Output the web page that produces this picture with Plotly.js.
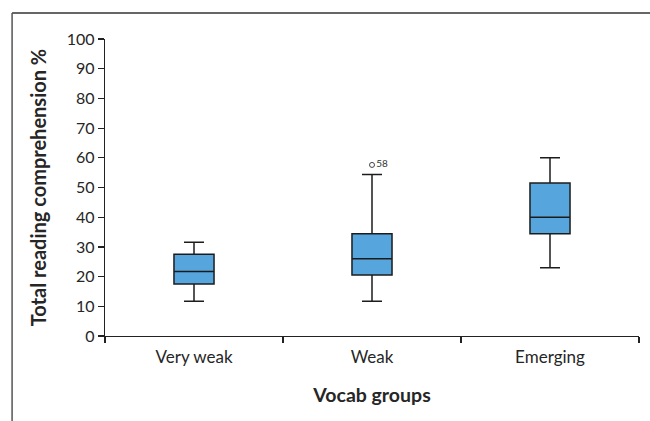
<!DOCTYPE html>
<html>
<head>
<meta charset="utf-8">
<script src="https://cdn.plot.ly/plotly-3.0.1.min.js"></script>
<style>
  html, body { margin: 0; padding: 0; background: #fff; }
  #chart { width: 650px; height: 421px; }
</style>
</head>
<body>
<div id="chart"></div>
<script>
// Data
var groups = ['Very weak', 'Weak', 'Emerging'];
var lowerWhisker = [11.7, 11.7, 23.0];
var q1Values = [17.5, 20.5, 34.4];
var medianValues = [21.7, 26.0, 40.0];
var q3Values = [27.5, 34.4, 51.5];
var upperWhisker = [31.6, 54.4, 60.0];
var outlierGroup = ['Weak'];
var outlierValue = [57.6];
var outlierLabel = ['58'];
var yTicks = [0, 10, 20, 30, 40, 50, 60, 70, 80, 90, 100];

var FONT = 'Lato, "Open Sans", sans-serif';
var INK = '#262626';

var boxTrace = {
  type: 'box',
  x: groups,
  lowerfence: lowerWhisker,
  q1: q1Values,
  median: medianValues,
  q3: q3Values,
  upperfence: upperWhisker,
  width: 0.225,
  whiskerwidth: 0.5,
  fillcolor: '#56a6dd',
  line: { color: '#1c1c1c', width: 1.5 },
  boxpoints: false,
  hoverinfo: 'skip',
  showlegend: false
};

var outlierTrace = {
  type: 'scatter',
  mode: 'markers+text',
  x: outlierGroup,
  y: outlierValue,
  text: outlierLabel,
  textposition: 'middle right',
  textfont: { family: FONT, size: 10, color: '#333' },
  marker: { symbol: 'circle-open', size: 5, color: '#444', line: { width: 1 } },
  hoverinfo: 'skip',
  showlegend: false
};

var layout = {
  width: 650,
  height: 421,
  margin: { l: 105, r: 11, t: 39, b: 85 },
  paper_bgcolor: '#fff',
  plot_bgcolor: '#fff',
  font: { family: FONT, color: INK },
  showlegend: false,
  xaxis: {
    type: 'category',
    range: [-0.5, 2.5],
    showline: true,
    linecolor: '#222',
    linewidth: 1.2,
    ticks: 'outside',
    tickson: 'boundaries',
    ticklen: 6,
    tickcolor: '#222',
    tickwidth: 1.2,
    ticklabelstandoff: 5,
    showgrid: false,
    zeroline: false,
    tickfont: { family: FONT, size: 17, color: INK },
    title: { text: 'Vocab groups', font: { family: FONT, size: 19.5, color: INK, weight: 'bold' }, standoff: 22 },
    fixedrange: true
  },
  yaxis: {
    range: [0, 100],
    tickvals: yTicks,
    ticktext: yTicks.map(String),
    showline: true,
    linecolor: '#222',
    linewidth: 1.2,
    ticks: 'outside',
    ticklen: 6,
    tickcolor: '#222',
    tickwidth: 1.2,
    showgrid: false,
    zeroline: false,
    tickfont: { family: FONT, size: 16, color: INK },
    title: { text: 'Total reading comprehension %', font: { family: FONT, size: 20, color: INK, weight: 'bold' }, standoff: 14 },
    fixedrange: true
  },
  shapes: [
    { type: 'line', xref: 'paper', yref: 'paper', x0: -0.174, x1: 1.03, y0: 1.0875, y1: 1.0875, line: { color: '#333', width: 1.5 } },
    { type: 'line', xref: 'paper', yref: 'paper', x0: -0.174, x1: -0.174, y0: 1.0875, y1: -0.3, line: { color: '#555', width: 1.5 } },
    { type: 'line', xref: 'paper', yref: 'paper', x0: -0.01, x1: 0, y0: 0, y1: 0, line: { color: '#222', width: 1.2 } }
  ]
};

Plotly.newPlot('chart', [boxTrace, outlierTrace], layout, { displayModeBar: false, staticPlot: true });
</script>
</body>
</html>
